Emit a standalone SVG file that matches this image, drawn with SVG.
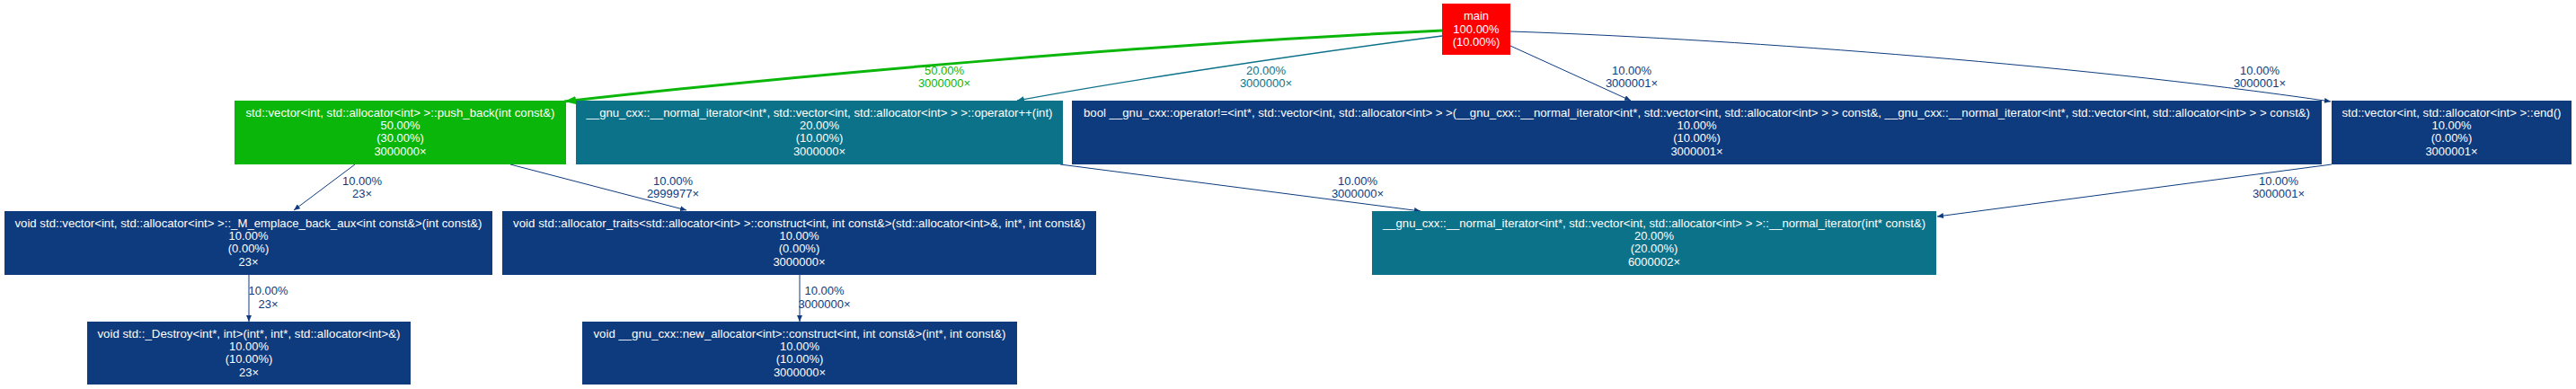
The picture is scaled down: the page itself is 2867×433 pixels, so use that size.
<svg xmlns="http://www.w3.org/2000/svg" width="2867" height="433" viewBox="0 0 2867 433">
<style>
text{font-family:"Liberation Sans",Arial,sans-serif;font-size:13px;text-anchor:middle}
.n text{fill:#ffffff}
.e{fill:none}
.eb{stroke:#0d3b7e;stroke-width:1}
.et{stroke:#0c728a;stroke-width:1.4}
.eg{stroke:#0ab60a;stroke-width:3}
.lb{fill:#0d3b7e}
.lt{fill:#0c728a}
.lg{fill:#0ab60a}
</style>
<defs>
<marker id="ab" markerUnits="userSpaceOnUse" markerWidth="8" markerHeight="6" refX="7" refY="3" orient="auto"><path d="M0,0 L7,3 L0,6 z" fill="#0d3b7e"/></marker>
<marker id="at" markerUnits="userSpaceOnUse" markerWidth="9" markerHeight="7" refX="8" refY="3.5" orient="auto"><path d="M0,0 L8,3.5 L0,7 z" fill="#0c728a"/></marker>
<marker id="ag" markerUnits="userSpaceOnUse" markerWidth="14" markerHeight="10" refX="13" refY="4.5" orient="auto"><path d="M0,0 L13,4.5 L0,9 z" fill="#0ab60a"/></marker>
</defs>
<rect width="2867" height="433" fill="#ffffff"/>
<g id="connectors">
<g id="e-main-push"><path class="e eg" d="M1605,34 C1300,48 900,82 628,113" marker-end="url(#ag)"/><text class="lg" x="1051" y="83">50.00%</text><text class="lg" x="1051" y="97">3000000×</text></g>
<g id="e-main-inc"><path class="e et" d="M1605,40 C1450,60 1250,90 1132,112" marker-end="url(#at)"/><text class="lt" x="1409" y="83">20.00%</text><text class="lt" x="1409" y="97">3000000×</text></g>
<g id="e-main-neq"><path class="e eb" d="M1681,51 L1815,112" marker-end="url(#ab)"/><text class="lb" x="1816" y="83">10.00%</text><text class="lb" x="1816" y="97">3000001×</text></g>
<g id="e-main-end"><path class="e eb" d="M1681,35 C1900,42 2300,70 2594,113" marker-end="url(#ab)"/><text class="lb" x="2515" y="83">10.00%</text><text class="lb" x="2515" y="97">3000001×</text></g>
<g id="e-push-emplace"><path class="e eb" d="M395,183 L327,234" marker-end="url(#ab)"/><text class="lb" x="403" y="205.7">10.00%</text><text class="lb" x="403" y="220">23×</text></g>
<g id="e-push-traits"><path class="e eb" d="M568,183 L764,234" marker-end="url(#ab)"/><text class="lb" x="749" y="205.7">10.00%</text><text class="lb" x="749" y="220">2999977×</text></g>
<g id="e-inc-ctor"><path class="e eb" d="M1180,183 L1581,235" marker-end="url(#ab)"/><text class="lb" x="1511" y="205.7">10.00%</text><text class="lb" x="1511" y="220">3000000×</text></g>
<g id="e-end-ctor"><path class="e eb" d="M2595,183 L2156,241" marker-end="url(#ab)"/><text class="lb" x="2536" y="205.7">10.00%</text><text class="lb" x="2536" y="220">3000001×</text></g>
<g id="e-emplace-destroy"><path class="e eb" d="M277,306 L277,358" marker-end="url(#ab)"/><text class="lb" x="298.5" y="328.3">10.00%</text><text class="lb" x="298.5" y="342.7">23×</text></g>
<g id="e-traits-newalloc"><path class="e eb" d="M890,306 L890,358" marker-end="url(#ab)"/><text class="lb" x="917.5" y="328.3">10.00%</text><text class="lb" x="917.5" y="342.7">3000000×</text></g>
</g>
<g id="main" class="n"><rect x="1605" y="4" width="76" height="57" fill="#ff0000"/><text x="1643" y="22">main</text><text x="1643" y="36.5">100.00%</text><text x="1643" y="51">(10.00%)</text></g>
<g id="push_back" class="n"><rect x="261" y="112" width="369" height="71" fill="#0ab60a"/><text x="445.5" y="130" textLength="344" lengthAdjust="spacingAndGlyphs">std::vector&lt;int, std::allocator&lt;int&gt; &gt;::push_back(int const&amp;)</text><text x="445.5" y="144.2">50.00%</text><text x="445.5" y="158.4">(30.00%)</text><text x="445.5" y="172.6">3000000×</text></g>
<g id="operator_inc" class="n"><rect x="641" y="112" width="542" height="71" fill="#0c728a"/><text x="912" y="130" textLength="519" lengthAdjust="spacingAndGlyphs">__gnu_cxx::__normal_iterator&lt;int*, std::vector&lt;int, std::allocator&lt;int&gt; &gt; &gt;::operator++(int)</text><text x="912" y="144.2">20.00%</text><text x="912" y="158.4">(10.00%)</text><text x="912" y="172.6">3000000×</text></g>
<g id="operator_neq" class="n"><rect x="1193" y="112" width="1391" height="71" fill="#0d3b7e"/><text x="1888.5" y="130" textLength="1365" lengthAdjust="spacingAndGlyphs">bool __gnu_cxx::operator!=&lt;int*, std::vector&lt;int, std::allocator&lt;int&gt; &gt; &gt;(__gnu_cxx::__normal_iterator&lt;int*, std::vector&lt;int, std::allocator&lt;int&gt; &gt; &gt; const&amp;, __gnu_cxx::__normal_iterator&lt;int*, std::vector&lt;int, std::allocator&lt;int&gt; &gt; &gt; const&amp;)</text><text x="1888.5" y="144.2">10.00%</text><text x="1888.5" y="158.4">(10.00%)</text><text x="1888.5" y="172.6">3000001×</text></g>
<g id="end" class="n"><rect x="2595" y="112" width="267" height="71" fill="#0d3b7e"/><text x="2728.5" y="130" textLength="244" lengthAdjust="spacingAndGlyphs">std::vector&lt;int, std::allocator&lt;int&gt; &gt;::end()</text><text x="2728.5" y="144.2">10.00%</text><text x="2728.5" y="158.4">(0.00%)</text><text x="2728.5" y="172.6">3000001×</text></g>
<g id="emplace_back_aux" class="n"><rect x="5" y="235" width="543" height="71" fill="#0d3b7e"/><text x="276.5" y="253" textLength="520" lengthAdjust="spacingAndGlyphs">void std::vector&lt;int, std::allocator&lt;int&gt; &gt;::_M_emplace_back_aux&lt;int const&amp;&gt;(int const&amp;)</text><text x="276.5" y="267.2">10.00%</text><text x="276.5" y="281.4">(0.00%)</text><text x="276.5" y="295.6">23×</text></g>
<g id="allocator_traits_construct" class="n"><rect x="559" y="235" width="661" height="71" fill="#0d3b7e"/><text x="889.5" y="253" textLength="637" lengthAdjust="spacingAndGlyphs">void std::allocator_traits&lt;std::allocator&lt;int&gt; &gt;::construct&lt;int, int const&amp;&gt;(std::allocator&lt;int&gt;&amp;, int*, int const&amp;)</text><text x="889.5" y="267.2">10.00%</text><text x="889.5" y="281.4">(0.00%)</text><text x="889.5" y="295.6">3000000×</text></g>
<g id="normal_iterator_ctor" class="n"><rect x="1527" y="235" width="628" height="71" fill="#0c728a"/><text x="1841" y="253" textLength="604" lengthAdjust="spacingAndGlyphs">__gnu_cxx::__normal_iterator&lt;int*, std::vector&lt;int, std::allocator&lt;int&gt; &gt; &gt;::__normal_iterator(int* const&amp;)</text><text x="1841" y="267.2">20.00%</text><text x="1841" y="281.4">(20.00%)</text><text x="1841" y="295.6">6000002×</text></g>
<g id="destroy" class="n"><rect x="97" y="358" width="360" height="70" fill="#0d3b7e"/><text x="277" y="376" textLength="337" lengthAdjust="spacingAndGlyphs">void std::_Destroy&lt;int*, int&gt;(int*, int*, std::allocator&lt;int&gt;&amp;)</text><text x="277" y="390.2">10.00%</text><text x="277" y="404.4">(10.00%)</text><text x="277" y="418.6">23×</text></g>
<g id="new_allocator_construct" class="n"><rect x="648" y="358" width="484" height="70" fill="#0d3b7e"/><text x="890" y="376" textLength="459" lengthAdjust="spacingAndGlyphs">void __gnu_cxx::new_allocator&lt;int&gt;::construct&lt;int, int const&amp;&gt;(int*, int const&amp;)</text><text x="890" y="390.2">10.00%</text><text x="890" y="404.4">(10.00%)</text><text x="890" y="418.6">3000000×</text></g>
</svg>
